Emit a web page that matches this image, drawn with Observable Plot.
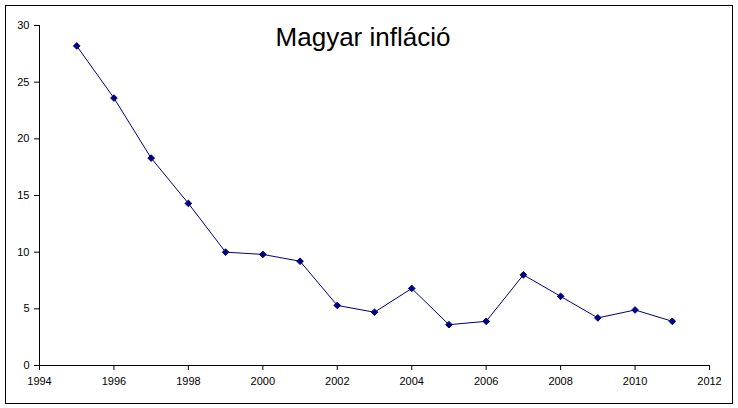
<!DOCTYPE html>
<html>
<head>
<meta charset="utf-8">
<script src="https://cdn.jsdelivr.net/npm/d3@7"></script>
<script src="https://cdn.jsdelivr.net/npm/@observablehq/plot@0.6"></script>
<style>
  html, body { margin: 0; padding: 0; background: #fff; }
  #wrap { position: relative; width: 738px; height: 408px; overflow: hidden; }
  #border { position: absolute; left: 5px; top: 5px; width: 726px; height: 397px; border: 1px solid #000; pointer-events: none; }
  #title { position: absolute; left: 0; width: 726px; top: 22px; text-align: center; font-family: "Liberation Sans", Arial, sans-serif; font-size: 26px; color: #000; }
  svg { display: block; }
</style>
</head>
<body>
<div id="wrap">
  <div id="chart"></div>
  <div id="border"></div>
  <div id="title">Magyar infláció</div>
</div>
<script>
const years = [1995, 1996, 1997, 1998, 1999, 2000, 2001, 2002, 2003, 2004, 2005, 2006, 2007, 2008, 2009, 2010, 2011];
const inflation = [28.2, 23.6, 18.3, 14.3, 10.0, 9.8, 9.2, 5.3, 4.7, 6.8, 3.6, 3.9, 8.0, 6.1, 4.2, 4.9, 3.9];
const xTicks = [1994, 1996, 1998, 2000, 2002, 2004, 2006, 2008, 2010, 2012];
const yTicks = [0, 5, 10, 15, 20, 25, 30];

const data = years.map((y, i) => ({year: y, value: inflation[i]}));
const navy = "#000080";

const chart = Plot.plot({
  width: 738,
  height: 408,
  marginLeft: 39,
  marginRight: 29,
  marginTop: 25,
  marginBottom: 43,
  style: {fontFamily: "'Liberation Sans', Arial, sans-serif", fontSize: "11px", color: "#000", background: "transparent"},
  x: {domain: [1994, 2012], ticks: xTicks, tickFormat: d => String(d), label: null},
  y: {domain: [0, 30], ticks: yTicks, label: null},
  marks: [
    Plot.axisX({ticks: xTicks, tickFormat: d => String(d), tickSize: 5, tickPadding: 7, label: null, stroke: "#000"}),
    Plot.axisY({ticks: yTicks, tickSize: 5, tickPadding: 5, label: null, stroke: "#000"}),
    Plot.ruleX([xTicks[0]], {stroke: "#000"}),
    Plot.ruleY([yTicks[0]], {stroke: "#000"}),
    Plot.line(data, {x: "year", y: "value", stroke: navy, strokeWidth: 1}),
    Plot.dot(data, {x: "year", y: "value", symbol: "diamond2", r: 3, fill: navy, stroke: navy, strokeWidth: 1})
  ]
});
document.getElementById("chart").appendChild(chart);
</script>
</body>
</html>
